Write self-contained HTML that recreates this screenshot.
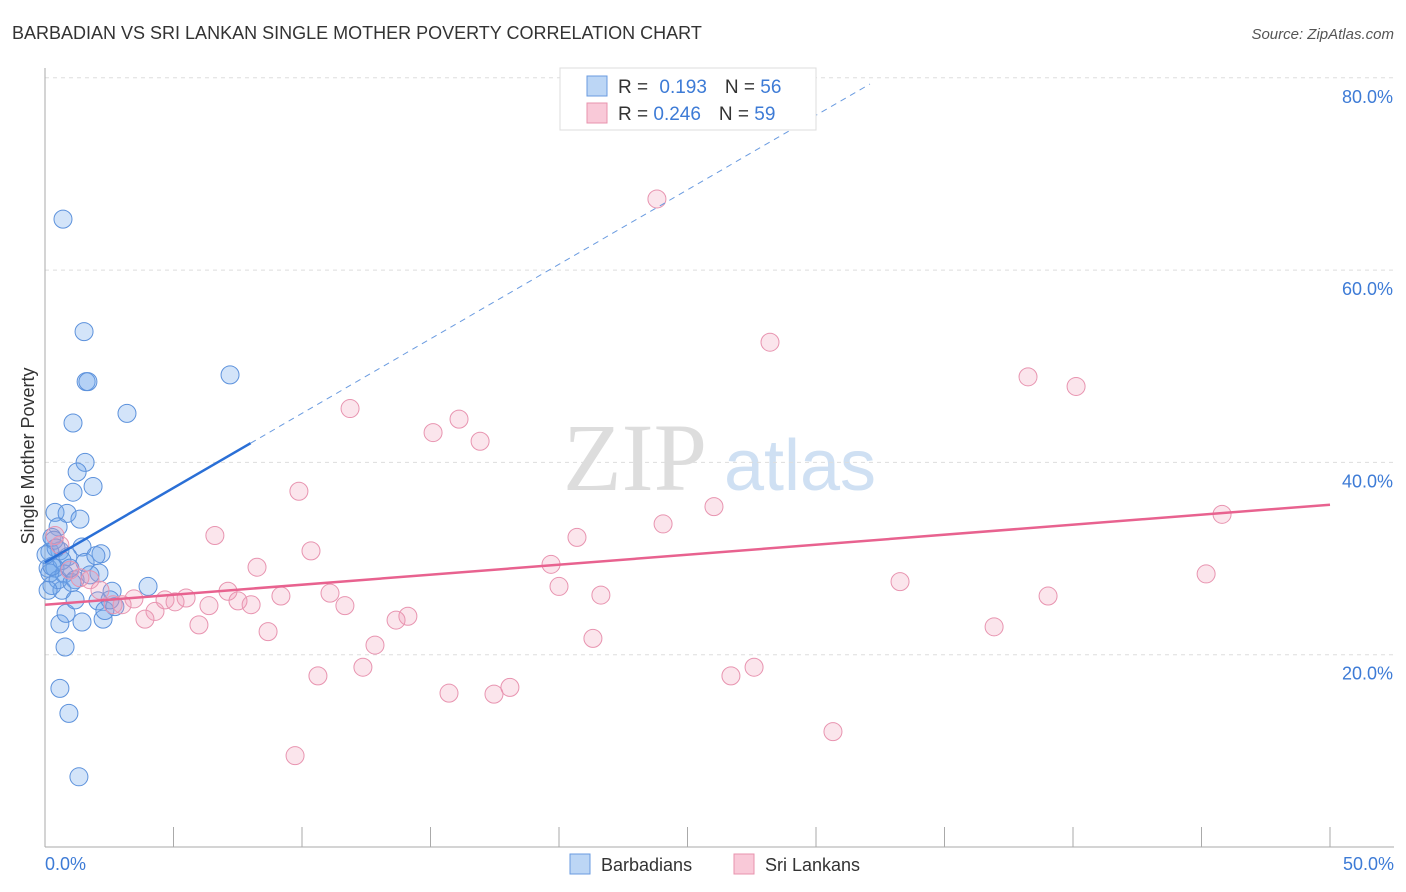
<!DOCTYPE html>
<html><head><meta charset="utf-8"><style>
body{margin:0;background:#fff;font-family:"Liberation Sans",sans-serif;}
svg{display:block}
</style></head><body>
<svg id="chart" width="1406" height="892">
<text x="12" y="39" font-size="18" fill="#333">BARBADIAN VS SRI LANKAN SINGLE MOTHER POVERTY CORRELATION CHART</text>
<text x="1394" y="39" font-size="15" fill="#555" font-style="italic" text-anchor="end">Source: ZipAtlas.com</text>
<text x="635" y="490" font-size="96" fill="#ddd" font-family="Liberation Serif,serif" text-anchor="middle">ZIP</text>
<text x="800" y="490" font-size="72" fill="#cfe0f3" text-anchor="middle">atlas</text>
<g id="grid"></g>
<g id="marks"></g>
<text transform="translate(34,456) rotate(-90)" font-size="18" fill="#333" text-anchor="middle">Single Mother Poverty</text>
<text x="45" y="870" font-size="18" fill="#3d7bd6">0.0%</text>
<text x="1394" y="870" font-size="18" fill="#3d7bd6" text-anchor="end">50.0%</text>
<g>
<rect x="560" y="68" width="256" height="62" fill="#fff" stroke="#ddd"/>
<rect x="587" y="76" width="20" height="20" fill="#bcd6f5" stroke="#6a9be0"/>
<rect x="587" y="103" width="20" height="20" fill="#f9c9d8" stroke="#e893ae"/>
<text x="618" y="93" font-size="19" fill="#333">R = <tspan fill="#3d7bd6" dx="6">0.193</tspan><tspan dx="18">N = </tspan><tspan fill="#3d7bd6">56</tspan></text>
<text x="618" y="120" font-size="19" fill="#333">R = <tspan fill="#3d7bd6">0.246</tspan><tspan dx="18">N = </tspan><tspan fill="#3d7bd6">59</tspan></text>
</g>
<g>
<rect x="570" y="854" width="20" height="20" fill="#bcd6f5" stroke="#6a9be0"/>
<text x="601" y="871" font-size="18" fill="#333">Barbadians</text>
<rect x="734" y="854" width="20" height="20" fill="#f9c9d8" stroke="#e893ae"/>
<text x="765" y="871" font-size="18" fill="#333">Sri Lankans</text>
</g>
</svg>
<script>
const yTicks=[20,40,60,80];
const xTickVals=[0,5,10,15,20,25,30,35,40,45,50];
const blueX=[0.70,1.52,1.60,1.67,7.20,3.19,1.09,1.56,1.25,1.87,1.09,0.39,0.86,1.36,0.51,0.27,1.44,0.58,0.19,2.18,0.89,1.56,0.39,0.12,0.74,2.10,1.17,0.27,0.66,4.01,2.61,2.06,2.72,2.26,1.44,0.58,0.82,0.78,0.58,0.93,1.32,0.19,0.51,1.05,0.35,1.75,1.17,2.33,0.66,0.12,0.97,1.98,0.43,0.27,0.04,2.53];
const blueY=[65.3,53.6,48.4,48.4,49.1,45.1,44.1,40.0,39.0,37.5,36.9,34.8,34.7,34.1,33.3,32.2,31.2,30.8,30.7,30.5,30.2,29.6,29.0,29.0,28.4,28.5,27.8,27.2,26.7,27.1,26.6,25.6,25.0,23.7,23.4,23.2,24.3,20.8,16.5,13.9,7.3,28.5,27.8,27.5,31.9,28.3,25.7,24.6,29.8,26.7,29.0,30.3,31.1,29.2,30.4,25.7];
const pinkX=[23.81,28.21,38.25,40.12,11.87,16.11,15.10,16.93,9.88,26.03,24.05,45.80,6.61,20.70,10.35,19.69,8.25,45.18,33.27,20.00,21.63,39.03,9.18,11.09,7.12,5.49,4.67,3.46,5.06,3.00,7.51,8.02,6.38,11.67,4.28,3.89,5.99,8.68,14.12,13.66,36.93,21.32,12.84,12.37,10.62,27.59,26.69,15.72,17.47,18.09,30.66,9.73,0.58,0.39,0.97,1.36,2.14,2.65,1.75];
const pinkY=[67.4,52.5,48.9,47.9,45.6,44.5,43.1,42.2,37.0,35.4,33.6,34.6,32.4,32.2,30.8,29.4,29.1,28.4,27.6,27.1,26.2,26.1,26.1,26.4,26.6,25.9,25.7,25.8,25.5,25.2,25.6,25.2,25.1,25.1,24.5,23.7,23.1,22.4,24.0,23.6,22.9,21.7,21.0,18.7,17.8,18.7,17.8,16.0,15.9,16.6,12.0,9.5,31.4,32.4,28.8,28.0,26.7,25.2,27.8];
const blueTrend=[29.6,1.55];
const pinkTrend=[25.2,0.208];
const NS='http://www.w3.org/2000/svg';
const sx=v=>45+v*25.7, sy=v=>847-v*9.615;
function mk(t,a,p){const e=document.createElementNS(NS,t);for(const k in a)e.setAttribute(k,a[k]);p.appendChild(e);return e;}
const g=document.getElementById('grid'), m=document.getElementById('marks');
yTicks.forEach(v=>{
 const l=mk('line',{x1:45,x2:1394,y1:sy(v),y2:sy(v),stroke:'#ddd','stroke-dasharray':'4,4'},g);
 
 
 const t=mk('text',{x:1393,y:sy(v)+25,'font-size':18,fill:'#3d7bd6','text-anchor':'end'},g);
 t.textContent=v.toFixed(1)+'%';
 
 
});
const ax=mk('line',{x1:45,x2:45,y1:68,y2:847,stroke:'#aaa'},g);


const bx=mk('line',{x1:45,x2:1394,y1:847,y2:847,stroke:'#aaa'},g);


xTickVals.forEach(v=>{
 const l=mk('line',{x1:sx(v),x2:sx(v),y1:827,y2:847,stroke:'#aaa'},g);
 
 
});
blueX.forEach((v,i)=>{
 const c=mk('circle',{cx:sx(v),cy:sy(blueY[i]),r:9,fill:'rgba(110,165,235,0.3)',stroke:'#5d92dc','stroke-width':1},m);
 
 
});
pinkX.forEach((v,i)=>{
 const c=mk('circle',{cx:sx(v),cy:sy(pinkY[i]),r:9,fill:'rgba(240,150,180,0.25)',stroke:'#e894b0','stroke-width':1},m);
 
 
});
const bt=mk('line',{x1:sx(0),y1:sy(blueTrend[0]),x2:sx(8),y2:sy(blueTrend[0]+8*blueTrend[1]),stroke:'#2a6fd6','stroke-width':2.5},m);


const bd=mk('line',{x1:sx(8),y1:sy(blueTrend[0]+8*blueTrend[1]),x2:sx(32.1),y2:sy(blueTrend[0]+32.1*blueTrend[1]),stroke:'#6a9be0','stroke-width':1,'stroke-dasharray':'6,5'},m);


const pt=mk('line',{x1:sx(0),y1:sy(pinkTrend[0]),x2:sx(50),y2:sy(pinkTrend[0]+50*pinkTrend[1]),stroke:'#e8628f','stroke-width':2.5},m);


</script>
</body></html>
